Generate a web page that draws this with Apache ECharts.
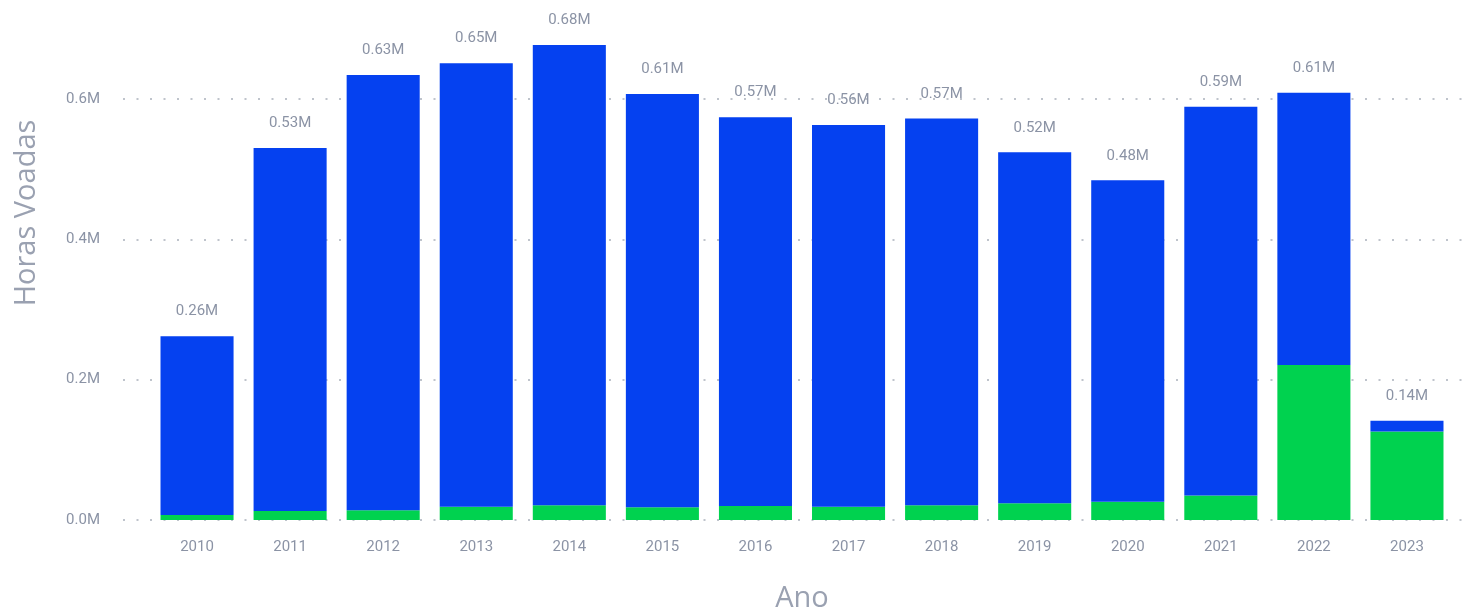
<!DOCTYPE html>
<html><head><meta charset="utf-8">
<script src="https://cdn.jsdelivr.net/npm/echarts@6/dist/echarts.min.js"></script>
<style>html,body{margin:0;padding:0;background:#fff}#c{width:1474px;height:611px}</style>
</head><body><div id="c"></div>
<script>
const years = ['2010','2011','2012','2013','2014','2015','2016','2017','2018','2019','2020','2021','2022','2023'];
const totals = [0.262,0.530,0.634,0.651,0.677,0.607,0.574,0.563,0.572,0.524,0.484,0.589,0.609,0.1415];
const green = [0.007,0.013,0.014,0.019,0.021,0.018,0.020,0.019,0.021,0.024,0.026,0.035,0.221,0.126];
const blue = totals.map((t,i)=>+(t-green[i]).toFixed(4));
const yTicks = [0,0.2,0.4,0.6];

const txt = '#8b93a5';
const chart = echarts.init(document.getElementById('c'));
chart.setOption({
  animation:false,
  grid:[
    {left:150.5, right:20.5, top:28.8, bottom:91, outerBoundsMode:'none', containLabel:false},
    {left:123, right:6, top:99, bottom:91, outerBoundsMode:'none', containLabel:false}
  ],
  xAxis:[
    {type:'category', data:years, gridIndex:0,
     axisLine:{show:false}, axisTick:{show:false},
     axisLabel:{color:txt, fontSize:15, fontFamily:'Roboto', margin:20},
     name:'Ano', nameLocation:'middle', nameGap:64,
     nameTextStyle:{color:'#9aa1b1', fontSize:29, fontFamily:'Open Sans'}},
    {type:'category', data:years, gridIndex:1, show:false}
  ],
  yAxis:[
    {type:'value', gridIndex:0, min:0, max:0.7, show:false, splitLine:{show:false}},
    {type:'value', gridIndex:1, min:0, max:yTicks[yTicks.length-1], interval:0.2,
     axisLine:{show:false}, axisTick:{show:false},
     axisLabel:{color:txt, fontSize:15, fontFamily:'Roboto', margin:23,
       formatter:v=>v.toFixed(1)+'M'},
     splitLine:{show:true, lineStyle:{color:'#bfc4cc', type:[2,11.5], width:2}}}
  ],
  graphic:[{type:'text', rotation:Math.PI/2, x:27, y:213,
    style:{text:'Horas Voadas', fill:'#9aa1b1', font:'29px "Open Sans"', textAlign:'center', textVerticalAlign:'middle'}}],
  series:[
    {type:'bar', name:'green', stack:'a', data:green, xAxisIndex:0, yAxisIndex:0,
     barCategoryGap:'21.5%', itemStyle:{color:'#00d24f'}},
    {type:'bar', name:'blue', stack:'a', data:blue, xAxisIndex:0, yAxisIndex:0,
     barCategoryGap:'21.5%', itemStyle:{color:'#0541f0'},
     label:{show:true, position:'top', distance:17, color:txt, fontSize:15, fontFamily:'Roboto',
       formatter:p=>totals[p.dataIndex].toFixed(2)+'M'}}
  ]
});
</script></body></html>
